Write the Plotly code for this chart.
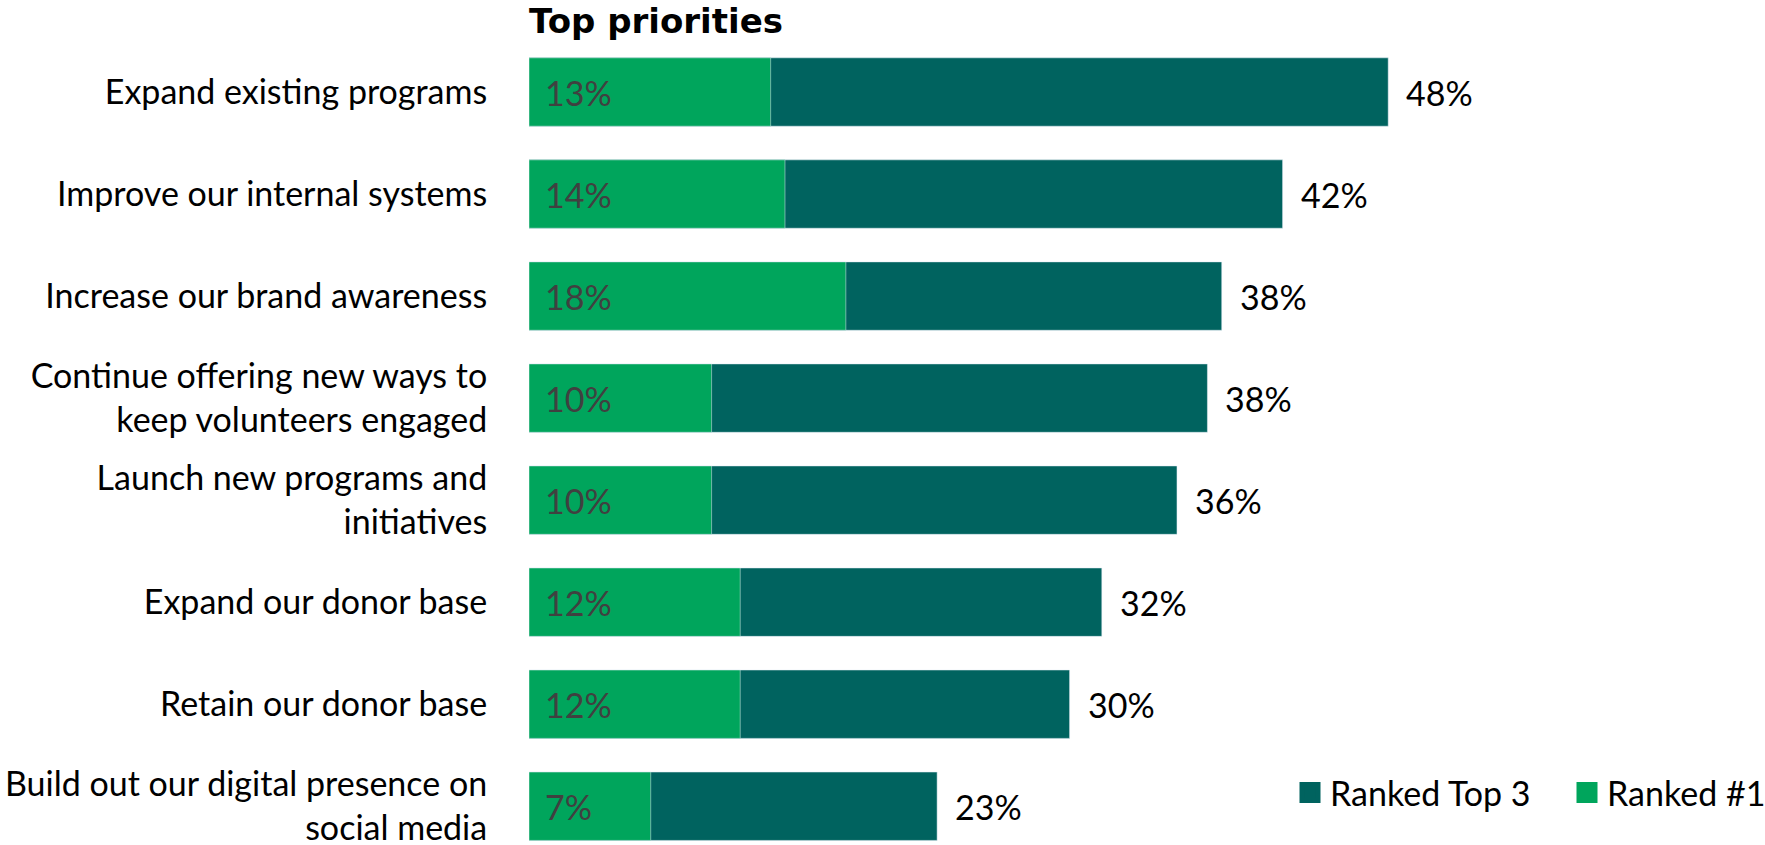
import plotly.graph_objects as go

categories = [
    "Expand existing programs",
    "Improve our internal systems",
    "Increase our brand awareness",
    "Continue offering new ways to<br>keep volunteers engaged",
    "Launch new programs and<br>initiatives",
    "Expand our donor base",
    "Retain our donor base",
    "Build out our digital presence on<br>social media",
]
top3_values = [48.0, 42.1, 38.7, 37.9, 36.2, 32.0, 30.2, 22.8]
first_values = [13.5, 14.3, 17.7, 10.2, 10.2, 11.8, 11.8, 6.8]
top3_labels = ["48%", "42%", "38%", "38%", "36%", "32%", "30%", "23%"]
first_labels = ["13%", "14%", "18%", "10%", "10%", "12%", "12%", "7%"]

DARK = "#00635F"
GREEN = "#00A55C"
FONT = "Lato, 'Open Sans', sans-serif"

W, H = 1765, 845
ML, MR, MT, MB = 529, 341, 41, 0
PW, PH = W - ML - MR, H - MT - MB

fig = go.Figure()
fig.add_trace(go.Bar(y=categories, x=top3_values, orientation="h", marker_color=DARK,
                     width=0.67, showlegend=False, hoverinfo="skip"))
fig.add_trace(go.Bar(y=categories, x=first_values, orientation="h", marker_color=GREEN,
                     width=0.67, showlegend=False, hoverinfo="skip"))
# legend entries
fig.add_trace(go.Scatter(x=[None], y=[None], mode="markers", name="Ranked Top 3",
                         marker=dict(symbol="square", size=16, color=DARK,
                                     line=dict(color=DARK, width=5))))
fig.add_trace(go.Scatter(x=[None], y=[None], mode="markers", name="Ranked #1",
                         marker=dict(symbol="square", size=16, color=GREEN,
                                     line=dict(color=GREEN, width=5))))

for cat, v, lab in zip(categories, top3_values, top3_labels):
    fig.add_annotation(x=v, y=cat, text=lab, showarrow=False, xanchor="left", xshift=16,
                       font=dict(family=FONT, size=34, color="#000000"))
for cat, v, lab in zip(categories, first_values, first_labels):
    fig.add_annotation(x=0, y=cat, text=lab, showarrow=False, xanchor="left", xshift=14,
                       font=dict(family=FONT, size=34, color="#404040"))

fig.update_layout(
    width=W, height=H,
    barmode="overlay",
    plot_bgcolor="white", paper_bgcolor="white",
    margin=dict(l=ML, r=MR, t=MT, b=MB, autoexpand=False),
    font=dict(family=FONT, size=34, color="#000000"),
    title=dict(text="<b>Top priorities</b>", x=ML / W, xanchor="left", xref="container",
               y=1 - 21.5 / H, yanchor="middle", yref="container",
               font=dict(family="'DejaVu Sans', sans-serif", size=34, color="#000000")),
    legend=dict(orientation="h", x=(1290 - ML) / PW, xanchor="left", xref="paper",
                y=(H - 793) / PH, yanchor="middle", yref="paper",
                font=dict(family=FONT, size=34, color="#000000"),
                bgcolor="rgba(0,0,0,0)", borderwidth=0, itemwidth=30,
                entrywidth=232, entrywidthmode="pixels"),
    showlegend=True,
)
fig.update_xaxes(range=[0, 50], visible=False, showgrid=False, zeroline=False, automargin=False)
fig.update_yaxes(categoryorder="array", categoryarray=categories, range=[7.38, -0.5],
                 showgrid=False, zeroline=False, showline=False, automargin=False,
                 ticks="outside", ticklen=34, tickcolor="rgba(0,0,0,0)",
                 tickfont=dict(family=FONT, size=34, color="#000000"))

fig.write_html("out.html")
